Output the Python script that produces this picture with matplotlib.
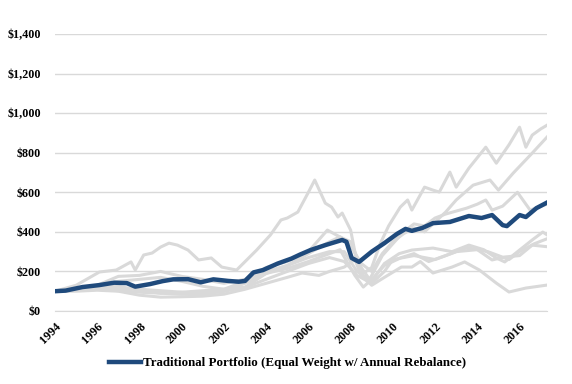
import matplotlib
matplotlib.use('Agg')
import matplotlib.pyplot as plt
from matplotlib.ticker import FuncFormatter

# values (growth of $100, year fractions)
blue_years = [1994.0, 1994.5, 1995.3, 1996.1, 1996.8, 1997.4, 1997.8, 1998.5, 1999.1, 1999.6,
              2000.3, 2000.9, 2001.5, 2002.2, 2002.7, 2003.0, 2003.4, 2003.85, 2004.55, 2005.2,
              2005.6, 2006.1, 2006.8, 2007.6, 2007.8, 2008.05, 2008.4, 2009.0, 2009.6, 2010.2,
              2010.6, 2010.9, 2011.4, 2011.9, 2012.7, 2013.6, 2014.2, 2014.7, 2015.2, 2015.4,
              2016.0, 2016.3, 2016.8, 2017.3]
blue_vals = [100, 103, 121, 131, 143, 141, 123, 136, 151, 160,
             161, 145, 160, 152, 148, 152, 195, 207, 240, 265,
             285, 308, 333, 359, 350, 268, 248, 300, 343, 390,
             415, 405, 420, 444, 450, 480, 470, 485, 434, 429,
             485, 475, 520, 548]

g1_years = [1994.0, 1995.0, 1996.1, 1996.9, 1997.6, 1997.8, 1998.2, 1998.6, 1999.0, 1999.4, 1999.8,
            2000.3, 2000.8, 2001.4, 2001.9, 2002.6, 2003.55, 2004.2, 2004.7, 2005.0, 2005.5,
            2006.0, 2006.3, 2006.8, 2007.1, 2007.4, 2007.6, 2008.0, 2008.25, 2008.6, 2009.0,
            2009.4, 2009.8, 2010.35, 2010.7, 2010.9, 2011.5, 2011.9, 2012.2, 2012.7, 2013.0,
            2013.6, 2014.4, 2014.9, 2015.5, 2016.0, 2016.3, 2016.6, 2017.0, 2017.3]
g1_vals = [100, 130, 197, 207, 248, 207, 283, 293, 323, 343, 333,
           308, 258, 268, 222, 207, 308, 384, 460, 470, 500,
           600, 662, 545, 525, 475, 495, 409, 273, 190, 220,
           340, 430, 525, 561, 510, 626, 611, 601, 702, 626,
           722, 828, 747, 840, 929, 828, 889, 920, 939]

g2_years = [1994.0, 1995.0, 1996.0, 1997.0, 1998.0, 1999.0, 2000.0, 2001.0, 2002.0, 2003.0,
            2004.0, 2005.0, 2006.0, 2007.0, 2007.5, 2008.0, 2008.5, 2009.0, 2009.5, 2010.0,
            2010.5, 2011.0, 2011.5, 2012.0, 2012.5, 2013.0, 2013.8, 2014.6, 2015.0, 2015.7,
            2016.6, 2017.3]
g2_vals = [100, 108, 125, 150, 160, 170, 150, 125, 110, 120,
           190, 230, 290, 350, 375, 330, 240, 200, 290, 350,
           390, 420, 400, 450, 500, 561, 636, 662, 611, 697,
           798, 879]

g3_years = [1994.0, 1995.0, 1996.0, 1997.0, 1998.0, 1999.0, 2000.0, 2001.0, 2002.0, 2003.0,
            2004.0, 2005.0, 2006.0, 2006.9, 2007.5, 2008.0, 2008.5, 2008.9, 2009.5, 2010.0,
            2010.5, 2011.0, 2011.5, 2012.0, 2012.5, 2013.0, 2013.5, 2014.0, 2014.4, 2014.7,
            2015.2, 2015.9, 2016.5, 2017.3]
g3_vals = [100, 112, 130, 175, 180, 200, 175, 160, 140, 160,
           220, 250, 300, 409, 374, 350, 220, 160, 280, 340,
           400, 440, 430, 470, 490, 505, 520, 540, 561, 510,
           530, 600, 510, 540]

g4_years = [1994.0, 1996.0, 1998.0, 2000.0, 2002.0, 2003.0, 2004.0, 2005.0, 2006.0, 2007.0,
            2007.7, 2008.3, 2009.0, 2009.6, 2010.3, 2010.9, 2011.9, 2012.8, 2013.6, 2014.3,
            2014.9, 2015.3, 2016.0, 2016.6, 2017.1, 2017.3]
g4_vals = [100, 115, 110, 95, 110, 150, 200, 230, 270, 300,
           300, 200, 150, 240, 290, 308, 318, 300, 333, 310,
           268, 248, 308, 359, 399, 385]

g5_years = [1994.0, 1996.0, 1998.0, 2000.0, 2001.0, 2002.0, 2003.0, 2004.0, 2005.0, 2006.0,
            2007.0, 2007.7, 2008.3, 2009.0, 2009.6, 2010.0, 2011.0, 2012.0, 2013.0, 2014.0,
            2014.7, 2015.3, 2016.0, 2016.6, 2017.3]
g5_vals = [100, 110, 95, 85, 90, 100, 120, 160, 200, 240,
           270, 250, 180, 140, 200, 260, 280, 260, 300, 310,
           258, 273, 280, 333, 325]

g6_years = [1994.0, 1995.0, 1996.0, 1997.0, 1998.0, 1999.0, 2000.0, 2001.0, 2002.0, 2003.0,
            2004.0, 2005.0, 2005.7, 2006.5, 2007.0, 2007.7, 2008.2, 2008.5, 2009.0, 2009.6,
            2010.4, 2010.9, 2011.3, 2011.9, 2012.8, 2013.4, 2014.1, 2014.9, 2015.5, 2016.3,
            2017.3]
g6_vals = [100, 100, 105, 100, 80, 70, 72, 75, 85, 110,
           140, 170, 192, 180, 200, 222, 260, 180, 130, 170,
           222, 222, 250, 192, 222, 248, 207, 141, 96, 116,
           131]

g7_years = [1994.0, 1996.0, 1997.0, 1998.0, 1999.0, 2000.0, 2001.0, 2002.0, 2003.0, 2004.0,
            2005.0, 2006.0, 2007.0, 2007.5, 2008.2, 2008.6, 2009.0, 2009.6, 2010.4, 2011.0,
            2011.7, 2012.5, 2013.5, 2014.5, 2015.0, 2015.5, 2016.0, 2016.7, 2017.3]
g7_vals = [100, 118, 125, 105, 90, 95, 85, 100, 140, 190,
           215, 250, 290, 310, 180, 121, 160, 230, 270, 290,
           250, 280, 320, 300, 280, 260, 300, 340, 365]

gray_series = [(g1_years, g1_vals), (g2_years, g2_vals), (g3_years, g3_vals), (g4_years, g4_vals),
               (g5_years, g5_vals), (g6_years, g6_vals), (g7_years, g7_vals)]

year_ticks = list(range(1994, 2017, 2))
y_ticks = list(range(0, 1401, 200))
legend_label = 'Traditional Portfolio (Equal Weight w/ Annual Rebalance)'

plt.rcParams['font.family'] = ['Liberation Serif', 'DejaVu Serif']
plt.rcParams['font.weight'] = 'bold'

fig = plt.figure(figsize=(5.72, 3.84), dpi=100)
ax = fig.add_axes((55/572, 1-311/384, 492/572, 277/384))

for yrs, vals in gray_series:
    ax.plot(yrs, vals, color='#d9d9d9', linewidth=2.2, solid_joinstyle='round')
line, = ax.plot(blue_years, blue_vals, color='#1f4a7c', linewidth=3.2, solid_joinstyle='round')

ax.set_xlim(1994, 2017.3)
ax.set_ylim(0, 1400)
ax.set_yticks(y_ticks)
ax.yaxis.set_major_formatter(FuncFormatter(lambda v, p: '${:,.0f}'.format(v)))
ax.set_xticks(year_ticks)
ax.set_xticklabels([str(y) for y in year_ticks], rotation=45, ha='right', va='top',
                   rotation_mode='anchor')
ax.grid(axis='y', color='#d9d9d9', linewidth=1.0)
ax.set_axisbelow(True)
for s in ['top', 'right', 'left']:
    ax.spines[s].set_visible(False)
ax.spines['bottom'].set_color('#d9d9d9')
ax.tick_params(axis='both', length=0, labelsize=8.7, colors='black')
ax.tick_params(axis='y', pad=10)
ax.tick_params(axis='x', pad=7)

fig.legend([line], [legend_label], loc='center', bbox_to_anchor=(288/572, 1-363/384),
           frameon=False, fontsize=9.4, handlelength=2.4, handletextpad=0.2)

fig.savefig('out.png', dpi=100)
